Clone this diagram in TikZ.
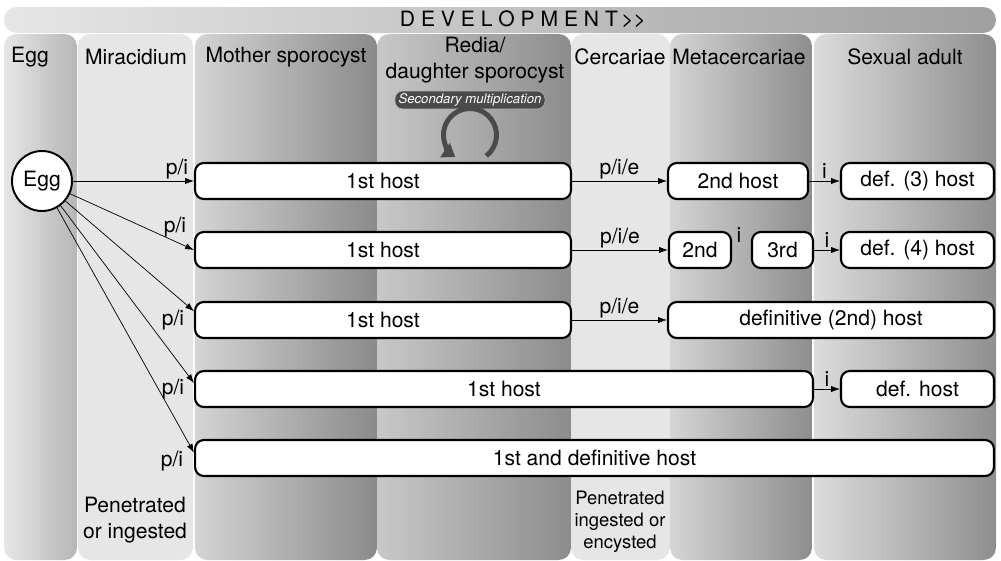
\documentclass[tikz,border=0pt]{standalone}
\usepackage{fontspec}
\setmainfont{TeX Gyre Heros}
\usetikzlibrary{arrows.meta}

\definecolor{chiaro}{HTML}{E6E6E6}
\definecolor{barraR}{HTML}{A0A0A0}
\definecolor{uovoL}{HTML}{E6E6E6}
\definecolor{uovoR}{HTML}{B6B6B6}
\definecolor{madreL}{HTML}{D4D4D4}
\definecolor{madreR}{HTML}{8A8A8A}
\definecolor{rediaL}{HTML}{C8C8C8}
\definecolor{rediaR}{HTML}{8C8C8C}
\definecolor{metaL}{HTML}{D4D4D4}
\definecolor{metaR}{HTML}{8E8E8E}
\definecolor{adultoL}{HTML}{DCDCDC}
\definecolor{adultoR}{HTML}{8E8E8E}
\definecolor{scuro}{HTML}{4A4A4A}

\begin{document}
\begin{tikzpicture}[
                x=0.02cm, y=-0.02cm,
                font=\fontsize{12}{14.5}\selectfont,
                >={Latex[length=5pt,width=3.5pt]},
                % Stile per i riquadri degli ospiti
                host/.style={
                    draw,
                    fill=white,
                    line width=1.2pt,
                    rounded corners=5pt,
                    minimum height=0.72cm,
                    inner sep=0pt
                },
                uovo/.style={draw, circle, fill=white, line width=1.1pt, minimum size=1.2cm, inner sep=0pt},
                colonna/.style={rounded corners=7pt},
                pill/.style={fill=scuro, draw=gray!60, line width=0.3pt, text=white, rounded corners=4.5pt,
                    inner xsep=2pt, inner ysep=1.5pt, font=\fontsize{7.5}{9}\selectfont\itshape},
                lbl/.style={inner sep=1pt}
            ]

                \useasboundingbox (0,0) rectangle (1001,561);

                % --- Barra superiore ---
                \shade[left color=chiaro, middle color=chiaro, right color=barraR, rounded corners=7.3pt] (4,7) rectangle (996,33);
                \node (dev) at (523,19) {D E V E L O P M E N T\,>{}>};

                % --- Colonne (stadi) ---
                \shade[colonna, left color=uovoL, right color=uovoR] (4,34) rectangle (77,560);
                \fill[colonna, chiaro] (78,34) rectangle (193,560);
                \shade[colonna, left color=madreL, right color=madreR] (195,34) rectangle (377,560);
                \shade[colonna, left color=rediaL, right color=rediaR] (377,34) rectangle (571,560);
                \fill[colonna, chiaro] (571,34) rectangle (670,560);
                \shade[colonna, left color=metaL, right color=metaR] (670,34) rectangle (812,560);
                \shade[colonna, left color=adultoL, right color=adultoR] (814,34) rectangle (996,560);

                % Titoli delle colonne
                \node (hEgg) at (30,57) {Egg};
                \node (hMir) at (136,57) {Miracidium};
                \node (hMad) at (286,57) {Mother sporocyst};
                \node[align=center] (hRed) at (475,60) {Redia/\\daughter sporocyst};
                \node (hCer) at (620,57) {Cercariae};
                \node (hMet) at (739,57) {Metacercariae};
                \node (hAdu) at (905,57) {Sexual adult};

                % --- Moltiplicazione secondaria ---
                \node[pill] (SM) at (470,100) {Secondary multiplication};
                \coordinate (giro) at (470,135);
                \draw[scuro, line width=2.8pt, -{Triangle[length=7pt,width=9.5pt]}]
                    ([shift={(-52:0.53cm)}]giro) arc[start angle=-52, end angle=236, radius=0.53cm];

                % --- Uovo ---
                \node[uovo] (E) at (42,181) {Egg};

                % --- Riga 1 ---
                \node[host, minimum width=7.52cm] (B1a) at (383,181) {1st host};
                \node[host, minimum width=2.80cm] (B1b) at (738,181) {2nd host};
                \node[host, minimum width=3.06cm] (B1c) at (917.5,181) {def. (3) host};
                \draw[->] (E) -- node[lbl, pos=0.86, above] (l1) {p/i} (B1a);
                \draw[->] (B1a) -- node[lbl, above] (e1) {p/i/e} (B1b);
                \draw[->] (B1b) -- node[lbl, above] (i1) {i} (B1c);

                % --- Riga 2 ---
                \node[host, minimum width=7.52cm] (B2a) at (383,250) {1st host};
                \node[host, minimum width=1.24cm] (B2b) at (700,250) {2nd};
                \node[host, minimum width=1.22cm] (B2c) at (782.5,250) {3rd};
                \node[host, minimum width=3.06cm] (B2d) at (917.5,250) {def. (4) host};
                \draw[->] (E) -- (B2a.west);
                \node[lbl] (l2) at (175,227) {p/i};
                \draw[->] (B2a) -- node[lbl, above] (e2) {p/i/e} (B2b);
                \node[lbl] (i2) at (739,235) {i};
                \draw[->] (B2c) -- node[lbl, above] (i3) {i} (B2d);

                % --- Riga 3 ---
                \node[host, minimum width=7.52cm] (B3a) at (383,320) {1st host};
                \node[host, minimum width=6.52cm] (B3b) at (831,320) {definitive (2nd) host};
                \draw[->] (E) -- ([yshift=5pt]B3a.west);
                \node[lbl] (l3) at (173,320) {p/i};
                \draw[->] (B3a) -- node[lbl, above] (e3) {p/i/e} (B3b);

                % --- Riga 4 ---
                \node[host, minimum width=12.36cm] (B4a) at (504,389) {1st host};
                \node[host, minimum width=3.06cm] (B4b) at (917.5,389) {def. host};
                \draw[->] (E) -- ([yshift=3.4pt]B4a.west);
                \node[lbl] (l4) at (173,389) {p/i};
                \draw[->] (B4a) -- node[lbl, above] (i4) {i} (B4b);

                % --- Riga 5 ---
                \node[host, minimum width=15.98cm] (B5) at (594.5,458) {1st and definitive host};
                \draw[->] (E) -- ([yshift=3pt]B5.west);
                \node[lbl] (l5) at (172,461) {p/i};

                % --- Note in basso ---
                \node[align=center] (pen1) at (135,520) {Penetrated\\or ingested};
                \node[align=center, font=\fontsize{10.5}{12.5}\selectfont] (pen2) at (620,522) {Penetrated\\ingested or\\encysted};

            \end{tikzpicture}
\end{document}
